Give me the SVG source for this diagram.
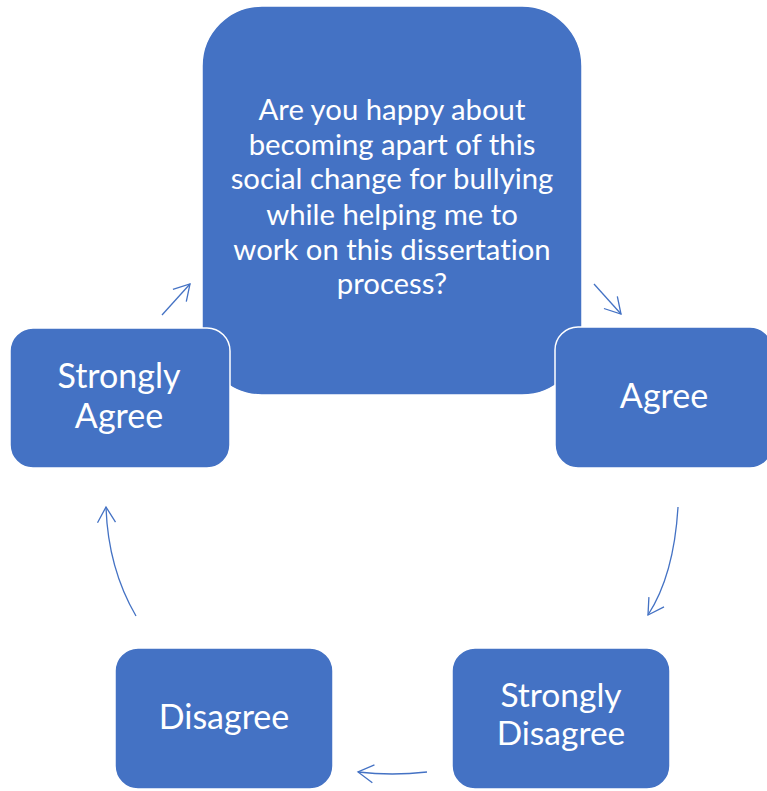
<svg xmlns="http://www.w3.org/2000/svg" width="767" height="791" viewBox="0 0 767 791">
<style>
.box{fill:#4472C4;stroke:#FFFFFF;stroke-width:1.5}
.t{fill:#FFFFFF;font-family:Lato,"Open Sans","Liberation Sans",sans-serif;text-anchor:middle;font-variant-ligatures:none}
.q{font-size:29.3px}
.n{font-size:34px}
.c{fill:none;stroke:#4472C4;stroke-width:1.3}
</style>
<defs>
<marker id="ah" markerUnits="userSpaceOnUse" viewBox="-1 -11 19 22" refX="15.5" refY="0" markerWidth="19" markerHeight="22" orient="auto">
<path d="M0,-9 L15.5,0 L0,9" fill="none" stroke="#4472C4" stroke-width="1.3"/>
</marker>
</defs>
<rect width="767" height="791" fill="#FFFFFF"/>
<g id="question">
<rect class="box" x="202" y="6" width="380" height="389" rx="60" ry="60"/>
<text class="t q" x="392" y="120">Are you happy about</text>
<text class="t q" x="392" y="155">becoming apart of this</text>
<text class="t q" x="392" y="189">social change for bullying</text>
<text class="t q" x="392" y="225">while helping me to</text>
<text class="t q" x="392" y="260">work on this dissertation</text>
<text class="t q" x="392" y="294">process?</text>
</g>
<g id="agree">
<rect class="box" x="555" y="327" width="218" height="141" rx="23" ry="23"/>
<text class="t n" x="664" y="408">Agree</text>
</g>
<g id="strongly-disagree">
<rect class="box" x="452" y="648" width="218" height="141" rx="23" ry="23"/>
<text class="t n" x="561" y="707" style="font-size:33.5px">Strongly</text>
<text class="t n" x="561" y="745" style="font-size:33.5px">Disagree</text>
</g>
<g id="disagree">
<rect class="box" x="115" y="648" width="218" height="141" rx="23" ry="23"/>
<text class="t n" x="224" y="729">Disagree</text>
</g>
<g id="strongly-agree">
<rect class="box" x="10" y="328" width="220" height="140" rx="23" ry="23"/>
<text class="t n" x="119" y="388">Strongly</text>
<text class="t n" x="119" y="428">Agree</text>
</g>
<g id="connectors">
<path class="c" d="M594,284 L621,314" marker-end="url(#ah)"/>
<path class="c" d="M678,507 Q674,575 648,615" marker-end="url(#ah)"/>
<path class="c" d="M427,772 Q392,776 358,772" marker-end="url(#ah)"/>
<path class="c" d="M136,616 Q108,568 106,507" marker-end="url(#ah)"/>
<path class="c" d="M162,315 L190,284" marker-end="url(#ah)"/>
</g>
</svg>
